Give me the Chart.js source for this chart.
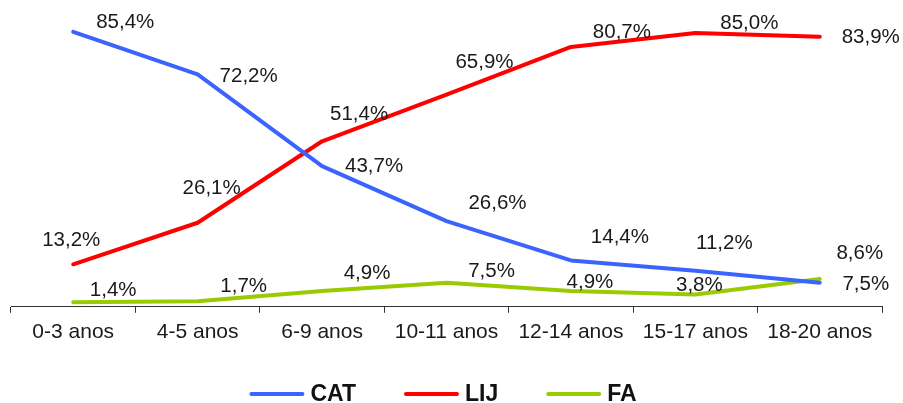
<!DOCTYPE html>
<html>
<head>
<meta charset="utf-8">
<script src="https://cdn.jsdelivr.net/npm/chart.js@4"></script>
<style>
  html, body { margin: 0; padding: 0; background: #fff; }
  #wrap { width: 903px; height: 403px; }
</style>
</head>
<body>
<div id="wrap"><canvas id="chart" width="903" height="403"></canvas></div>
<script>
const labels = ["0-3 anos", "4-5 anos", "6-9 anos", "10-11 anos", "12-14 anos", "15-17 anos", "18-20 anos"];
const cat = [85.4, 72.2, 43.7, 26.6, 14.4, 11.2, 7.5];
const lij = [13.2, 26.1, 51.4, 65.9, 80.7, 85.0, 83.9];
const fa = [1.4, 1.7, 4.9, 7.5, 4.9, 3.8, 8.6];

// where each value label sits relative to its point (px)
const labelOffsets = [
  [[52,-9],[51,2],[52,0],[51,-18],[49,-23],[29,-27],[46,2]],
  [[-2,-24],[14,-34],[37,-27],[38,-32],[51,-15],[54,-10],[51,1]],
  [[40,-12],[46,-15],[45,-18],[45,-11],[19,-9],[4,-9],[40,-26]]
];

const fmt = v => v.toFixed(1).replace(".", ",") + "%";

const valueLabels = {
  id: "valueLabels",
  afterDatasetsDraw(chart) {
    const ctx = chart.ctx;
    ctx.save();
    ctx.font = "20.5px 'Liberation Sans', Arial, sans-serif";
    ctx.fillStyle = "#1a1a1a";
    ctx.textAlign = "center";
    ctx.textBaseline = "middle";
    chart.data.datasets.forEach((ds, i) => {
      chart.getDatasetMeta(i).data.forEach((pt, j) => {
        const o = labelOffsets[i][j];
        ctx.fillText(fmt(ds.data[j]), pt.x + o[0], pt.y + o[1]);
      });
    });
    ctx.restore();
  }
};

const bottomLegend = {
  id: "bottomLegend",
  afterDraw(chart) {
    const ctx = chart.ctx;
    ctx.save();
    ctx.font = "bold 23px 'Liberation Sans', Arial, sans-serif";
    const lineW = 55, gap = 6, spacing = 48, y = 394;
    const items = chart.data.datasets.map(ds => ({ text: ds.label, color: ds.borderColor, w: ctx.measureText(ds.label).width }));
    let total = items.reduce((s, it) => s + lineW + gap + it.w, 0) + spacing * (items.length - 1);
    let x = 443 - total / 2;
    items.forEach(it => {
      ctx.strokeStyle = it.color;
      ctx.lineWidth = 4;
      ctx.lineCap = "round";
      ctx.beginPath();
      ctx.moveTo(x + 2, y);
      ctx.lineTo(x + lineW - 2, y);
      ctx.stroke();
      ctx.fillStyle = "#111";
      ctx.textBaseline = "middle";
      ctx.textAlign = "left";
      ctx.fillText(it.text, x + lineW + gap, y + 1);
      x += lineW + gap + it.w + spacing;
    });
    ctx.restore();
  }
};

const lineStyle = color => ({
  borderColor: color,
  backgroundColor: color,
  borderWidth: 4,
  borderCapStyle: "round",
  borderJoinStyle: "round",
  pointRadius: 0,
  tension: 0,
  fill: false,
  clip: false
});

new Chart(document.getElementById("chart"), {
  type: "line",
  data: {
    labels: labels,
    datasets: [
      Object.assign({ label: "CAT", data: cat }, lineStyle("#3b64ff")),
      Object.assign({ label: "LIJ", data: lij }, lineStyle("#ff0000")),
      Object.assign({ label: "FA", data: fa }, lineStyle("#99cc00"))
    ]
  },
  options: {
    responsive: false,
    animation: false,
    layout: { padding: { left: 11, right: 21, top: 17, bottom: 51 } },
    plugins: {
      legend: { display: false },
      tooltip: { enabled: false }
    },
    scales: {
      x: {
        offset: true,
        grid: {
          offset: true,
          drawOnChartArea: false,
          drawTicks: true,
          tickLength: 6,
          color: "#333"
        },
        border: { display: true, color: "#333", width: 1 },
        ticks: {
          padding: 7,
          color: "#1a1a1a",
          font: { family: "'Liberation Sans', Arial, sans-serif", size: 21 },
          maxRotation: 0,
          autoSkip: false
        }
      },
      y: {
        display: false,
        min: 0,
        max: 90
      }
    }
  },
  plugins: [valueLabels, bottomLegend]
});
</script>
</body>
</html>
